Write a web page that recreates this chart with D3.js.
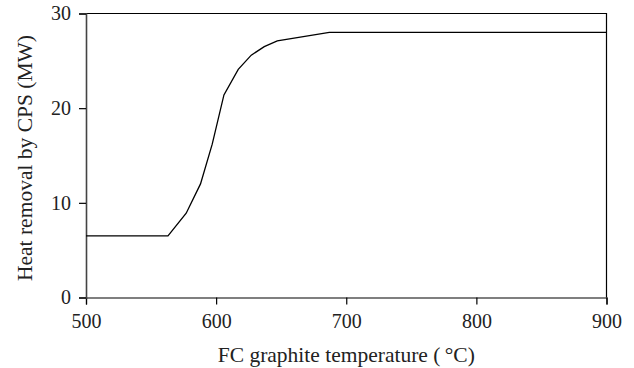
<!DOCTYPE html>
<html>
<head>
<meta charset="utf-8">
<script src="https://cdn.jsdelivr.net/npm/d3@7"></script>
<style>
  body { margin: 0; background: #fff; }
  svg { display: block; }
  svg text { font-family: "Liberation Serif", "DejaVu Serif", serif; }
</style>
</head>
<body>
<svg id="chart" width="634" height="368"></svg>
<script>
// FC graphite temperature (°C) vs heat removal by CPS (MW)
const temps = [500, 563, 577, 588, 597, 606, 617, 627, 637, 647, 687, 728, 900];
const heat = [6.5, 6.5, 8.9, 12.0, 16.2, 21.4, 24.1, 25.6, 26.5, 27.1, 28.0, 28.0, 28.0];
const xTicks = [500, 600, 700, 800, 900];
const yTicks = [0, 10, 20, 30];

const svg = d3.select("#chart");
const margin = { top: 13.5, right: 27.5, bottom: 70.5, left: 86 };
const width = 634 - margin.left - margin.right;
const height = 368 - margin.top - margin.bottom;

const g = svg.append("g").attr("transform", `translate(${margin.left},${margin.top})`);

const x = d3.scaleLinear().domain([500, 900]).range([0, width]);
const y = d3.scaleLinear().domain([0, 30]).range([height, 0]);

// frame (top and right)
g.append("path")
    .attr("d", `M0,0 H${width} V${height}`)
    .attr("fill", "none")
    .attr("stroke", "#000")
    .attr("stroke-width", 1.2);

// x axis
const xAxis = g.append("g")
    .attr("transform", `translate(0,${height})`)
    .call(d3.axisBottom(x).tickValues(xTicks).tickSize(7).tickPadding(9).tickFormat(d3.format("d")));
xAxis.select(".domain").attr("stroke", "#000").attr("stroke-width", 1.2);
xAxis.selectAll(".tick line").attr("stroke", "#000").attr("stroke-width", 1.2);

// y axis
const yAxis = g.append("g")
    .call(d3.axisLeft(y).tickValues(yTicks).tickSize(7).tickPadding(8).tickFormat(d3.format("d")));
yAxis.select(".domain").attr("stroke", "#444").attr("stroke-width", 1.6);
yAxis.selectAll(".tick line").attr("stroke", "#000").attr("stroke-width", 1.2);

[xAxis, yAxis].forEach(a => a
    .attr("font-family", "Liberation Serif, serif")
    .attr("font-size", 20));
svg.selectAll(".tick text").attr("fill", "#222");

// curve
const line = d3.line()
    .x((d, i) => x(temps[i]))
    .y(d => y(d));

g.append("path")
    .datum(heat)
    .attr("d", line)
    .attr("fill", "none")
    .attr("stroke", "#000")
    .attr("stroke-width", 1.3);

// axis titles
svg.append("text")
    .attr("x", margin.left + width / 2)
    .attr("y", 362)
    .attr("text-anchor", "middle")
    .attr("fill", "#222")
    .style("font-size", "21.5px")
    .text("FC graphite temperature (\u2009°C)");

svg.append("text")
    .attr("transform", `translate(32,158) rotate(-90)`)
    .attr("text-anchor", "middle")
    .attr("fill", "#222")
    .style("font-size", "21.5px")
    .text("Heat removal by CPS (MW)");
</script>
</body>
</html>
